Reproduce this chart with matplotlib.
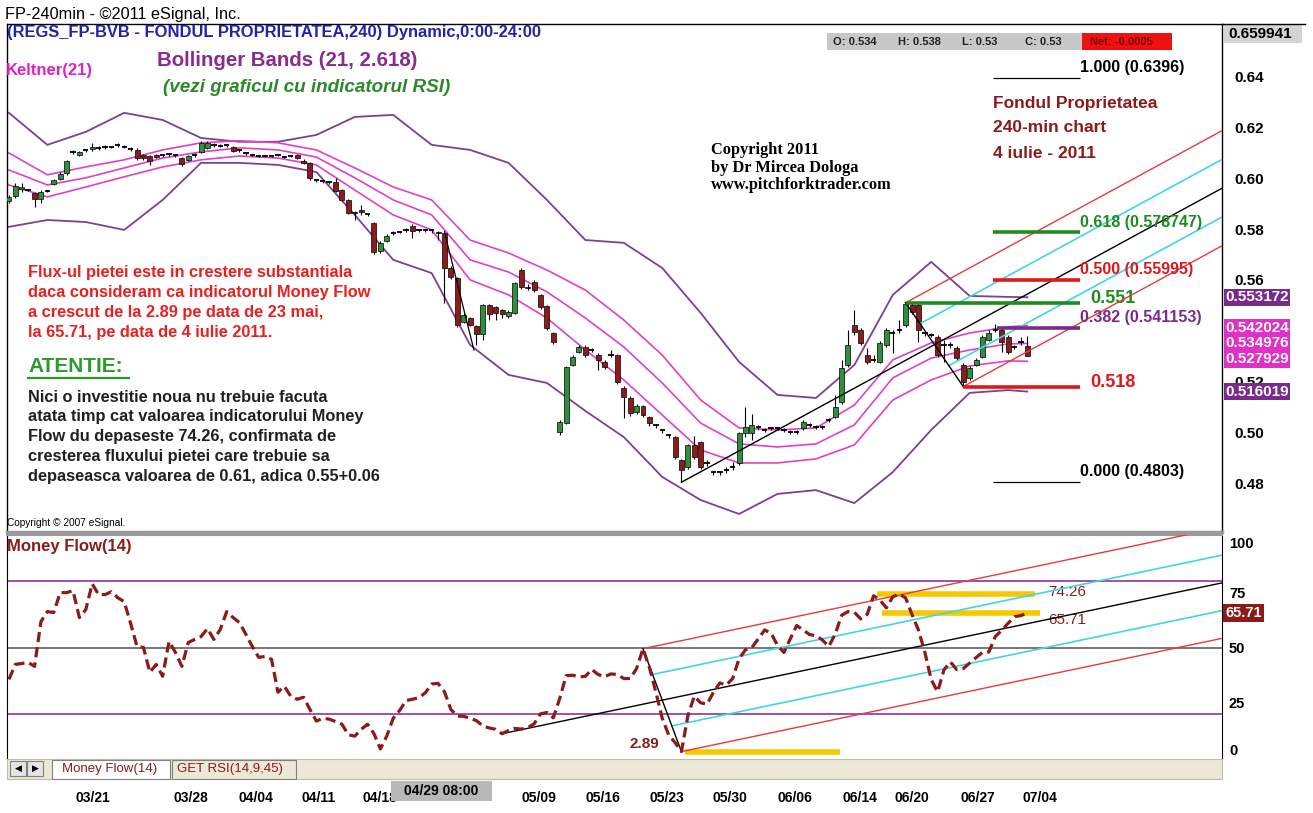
import numpy as np
import matplotlib.pyplot as plt
from matplotlib.patches import Rectangle
from matplotlib.lines import Line2D
from matplotlib.transforms import blended_transform_factory

plt.rcParams['font.family'] = ['Liberation Sans', 'DejaVu Sans']

W, H = 1313, 813

# ---- price bars (240 min) ----
opens = [
    0.5911, 0.5931, 0.5958, 0.5954, 0.5943, 0.5919, 0.5950, 0.5978, 0.5998, 0.6021,
    0.6104, 0.6092, 0.6112, 0.6116, 0.6120, 0.6124, 0.6124, 0.6132, 0.6124, 0.6116,
    0.6112, 0.6092, 0.6088, 0.6092, 0.6092, 0.6096, 0.6092, 0.6080, 0.6073, 0.6092,
    0.6104, 0.6120, 0.6132, 0.6128, 0.6132, 0.6124, 0.6112, 0.6100, 0.6092, 0.6088,
    0.6088, 0.6088, 0.6092, 0.6084, 0.6088, 0.6092, 0.6069, 0.6061, 0.5994, 0.5990,
    0.5986, 0.5986, 0.5954, 0.5915, 0.5868, 0.5876, 0.5860, 0.5824, 0.5714, 0.5753,
    0.5785, 0.5789, 0.5797, 0.5813, 0.5797, 0.5797, 0.5797, 0.5789, 0.5785, 0.5647,
    0.5608, 0.5434, 0.5450, 0.5419, 0.5387, 0.5501, 0.5493, 0.5482, 0.5458, 0.5470,
    0.5639, 0.5572, 0.5592, 0.5541, 0.5497, 0.5391, 0.5001, 0.5036, 0.5265, 0.5316,
    0.5336, 0.5324, 0.5304, 0.5277, 0.5304, 0.5304, 0.5174, 0.5135, 0.5080, 0.5103,
    0.5060, 0.5029, 0.5009, 0.4989, 0.4981, 0.4891, 0.4863, 0.4950, 0.4962, 0.4879,
    0.4843, 0.4843, 0.4851, 0.4863, 0.4879, 0.4997, 0.4997, 0.5021, 0.5009, 0.5017,
    0.5017, 0.5009, 0.5001, 0.5001, 0.5017, 0.5029, 0.5021, 0.5021, 0.5048, 0.5060,
    0.5119, 0.5265, 0.5422, 0.5403, 0.5304, 0.5285, 0.5277, 0.5344, 0.5391, 0.5403,
    0.5422, 0.5501, 0.5501, 0.5391, 0.5383, 0.5375, 0.5344, 0.5344, 0.5332, 0.5265,
    0.5214, 0.5265, 0.5296, 0.5363, 0.5403, 0.5403, 0.5375, 0.5336, 0.5356, 0.534]
highs = [
    0.5935, 0.5982, 0.5982, 0.5958, 0.5947, 0.5954, 0.5954, 0.5998, 0.6025, 0.6073,
    0.6112, 0.6108, 0.6116, 0.6140, 0.6128, 0.6132, 0.6128, 0.6140, 0.6132, 0.6124,
    0.6120, 0.6096, 0.6092, 0.6096, 0.6096, 0.6100, 0.6096, 0.6084, 0.6092, 0.6100,
    0.6148, 0.6148, 0.6140, 0.6136, 0.6136, 0.6128, 0.6116, 0.6104, 0.6096, 0.6092,
    0.6092, 0.6092, 0.6096, 0.6088, 0.6092, 0.6096, 0.6077, 0.6065, 0.5998, 0.5994,
    0.5990, 0.6002, 0.5958, 0.5919, 0.5872, 0.5895, 0.5864, 0.5828, 0.5753, 0.5781,
    0.5793, 0.5793, 0.5805, 0.5820, 0.5801, 0.5801, 0.5801, 0.5793, 0.5793, 0.5655,
    0.5612, 0.5470, 0.5454, 0.5422, 0.5505, 0.5505, 0.5497, 0.5485, 0.5482, 0.5592,
    0.5647, 0.5584, 0.5600, 0.5545, 0.5501, 0.5395, 0.5048, 0.5261, 0.5304, 0.5344,
    0.5344, 0.5332, 0.5312, 0.5285, 0.5324, 0.5308, 0.5182, 0.5143, 0.5111, 0.5107,
    0.5064, 0.5032, 0.5013, 0.4993, 0.4985, 0.4895, 0.4954, 0.4985, 0.4965, 0.4891,
    0.4847, 0.4847, 0.4863, 0.4883, 0.5001, 0.5099, 0.5072, 0.5029, 0.5017, 0.5021,
    0.5021, 0.5017, 0.5009, 0.5009, 0.5048, 0.5036, 0.5029, 0.5029, 0.5056, 0.5147,
    0.5285, 0.5403, 0.5482, 0.5411, 0.5332, 0.5304, 0.5360, 0.5411, 0.5403, 0.5442,
    0.5510, 0.5509, 0.5509, 0.5399, 0.5391, 0.5383, 0.5363, 0.5356, 0.5340, 0.5273,
    0.5261, 0.5292, 0.5383, 0.5403, 0.5426, 0.5411, 0.5383, 0.5344, 0.5375, 0.538]
lows = [
    0.5903, 0.5923, 0.5947, 0.5950, 0.5887, 0.5903, 0.5947, 0.5974, 0.5994, 0.6014,
    0.6096, 0.6088, 0.6104, 0.6108, 0.6112, 0.6116, 0.6120, 0.6124, 0.6120, 0.6108,
    0.6073, 0.6073, 0.6053, 0.6080, 0.6084, 0.6088, 0.6084, 0.6049, 0.6069, 0.6084,
    0.6100, 0.6116, 0.6124, 0.6124, 0.6124, 0.6104, 0.6104, 0.6092, 0.6088, 0.6084,
    0.6084, 0.6084, 0.6088, 0.6080, 0.6084, 0.6077, 0.6057, 0.5994, 0.5986, 0.5982,
    0.5978, 0.5947, 0.5911, 0.5860, 0.5836, 0.5856, 0.5852, 0.5702, 0.5706, 0.5750,
    0.5777, 0.5785, 0.5789, 0.5765, 0.5789, 0.5789, 0.5785, 0.5757, 0.5509, 0.5604,
    0.5415, 0.5430, 0.5419, 0.5344, 0.5363, 0.5442, 0.5442, 0.5450, 0.5450, 0.5466,
    0.5564, 0.5560, 0.5553, 0.5485, 0.5403, 0.5348, 0.4989, 0.5032, 0.5261, 0.5312,
    0.5296, 0.5316, 0.5245, 0.5249, 0.5296, 0.5190, 0.5056, 0.5064, 0.5072, 0.5060,
    0.5025, 0.5017, 0.4997, 0.4977, 0.4895, 0.4803, 0.4855, 0.4895, 0.4855, 0.4867,
    0.4832, 0.4832, 0.4839, 0.4851, 0.4871, 0.4981, 0.4969, 0.5009, 0.5001, 0.5009,
    0.5009, 0.5001, 0.4993, 0.4993, 0.5009, 0.5021, 0.5013, 0.5013, 0.5040, 0.5056,
    0.5111, 0.5257, 0.5383, 0.5344, 0.5269, 0.5277, 0.5273, 0.5336, 0.5312, 0.5391,
    0.5415, 0.5466, 0.5356, 0.5379, 0.5375, 0.5296, 0.5277, 0.5332, 0.5285, 0.5180,
    0.5206, 0.5261, 0.5292, 0.5360, 0.5395, 0.5316, 0.5308, 0.5328, 0.5344, 0.530]
closes = [
    0.5927, 0.5970, 0.5966, 0.5954, 0.5919, 0.5947, 0.5950, 0.5994, 0.6017, 0.6069,
    0.6104, 0.6104, 0.6112, 0.6124, 0.6120, 0.6124, 0.6124, 0.6132, 0.6124, 0.6116,
    0.6080, 0.6080, 0.6069, 0.6084, 0.6092, 0.6096, 0.6092, 0.6057, 0.6088, 0.6092,
    0.6140, 0.6140, 0.6132, 0.6128, 0.6132, 0.6108, 0.6112, 0.6100, 0.6092, 0.6088,
    0.6088, 0.6088, 0.6092, 0.6084, 0.6088, 0.6080, 0.6061, 0.6002, 0.5994, 0.5990,
    0.5986, 0.5950, 0.5915, 0.5864, 0.5864, 0.5868, 0.5860, 0.5710, 0.5746, 0.5773,
    0.5785, 0.5789, 0.5797, 0.5793, 0.5797, 0.5797, 0.5797, 0.5785, 0.5647, 0.5612,
    0.5422, 0.5462, 0.5422, 0.5387, 0.5501, 0.5466, 0.5470, 0.5466, 0.5474, 0.5588,
    0.5572, 0.5568, 0.5560, 0.5493, 0.5411, 0.5356, 0.5040, 0.5257, 0.5296, 0.5336,
    0.5304, 0.5324, 0.5285, 0.5257, 0.5304, 0.5198, 0.5139, 0.5076, 0.5103, 0.5068,
    0.5036, 0.5029, 0.5009, 0.4989, 0.4902, 0.4851, 0.4950, 0.4902, 0.4863, 0.4879,
    0.4843, 0.4843, 0.4851, 0.4863, 0.4997, 0.5021, 0.5029, 0.5021, 0.5009, 0.5017,
    0.5017, 0.5009, 0.5001, 0.5001, 0.5040, 0.5029, 0.5021, 0.5021, 0.5048, 0.5099,
    0.5253, 0.5344, 0.5395, 0.5352, 0.5277, 0.5285, 0.5352, 0.5403, 0.5391, 0.5403,
    0.5505, 0.5474, 0.5403, 0.5391, 0.5383, 0.5304, 0.5344, 0.5344, 0.5292, 0.5198,
    0.5253, 0.5285, 0.5375, 0.5391, 0.5403, 0.5356, 0.5316, 0.5336, 0.5356, 0.530]

# ---- Money Flow(14) ----
money_flow = [
    35.6, 42.4, 42.8, 43.3, 41.5, 61.8, 66.3, 65.9, 74.9, 74.9,
    75.8, 63.6, 67.2, 78.9, 74.0, 74.0, 75.3, 72.6, 70.8, 61.0,
    50.5, 50.1, 38.8, 42.4, 37.0, 52.8, 47.8, 41.5, 52.3, 53.7,
    55.0, 58.6, 53.7, 58.2, 66.3, 63.6, 61.3, 56.0, 50.5, 45.6,
    46.0, 44.7, 29.8, 32.5, 28.0, 26.6, 27.5, 22.0, 16.7, 18.0,
    17.6, 16.5, 15.3, 10.5, 9.9, 13.0, 15.3, 11.0, 4.1, 10.0,
    18.0, 21.5, 26.0, 26.6, 27.3, 29.5, 33.5, 33.8, 30.0, 22.0,
    19.0, 18.9, 18.0, 16.9, 14.5, 13.6, 13.0, 11.0, 12.5, 13.4,
    13.1, 13.7, 15.5, 20.0, 20.6, 18.2, 27.0, 37.3, 37.5, 36.7,
    37.0, 40.1, 37.8, 36.8, 38.1, 37.8, 36.0, 36.0, 40.5, 49.5,
    41.0, 30.0, 18.0, 10.5, 7.0, 2.89, 19.0, 28.0, 25.0, 24.4,
    29.8, 34.0, 33.0, 36.0, 45.0, 49.0, 50.0, 54.0, 58.0, 56.5,
    51.0, 47.8, 54.0, 60.0, 58.0, 55.9, 55.4, 53.5, 50.5, 56.0,
    64.6, 66.3, 66.0, 63.0, 65.0, 73.5, 71.5, 68.0, 73.0, 74.26,
    72.5, 65.0, 58.0, 48.0, 35.5, 30.0, 40.0, 43.5, 40.0, 40.5,
    43.0, 45.5, 47.8, 48.0, 55.0, 57.8, 61.0, 64.0, 64.5, 65.71]

# ---- Bollinger (21, 2.618) and Keltner(21), read every 6 bars ----
band_idx = list(range(0, 160, 6)) + [159]
bb_upper = [0.6258, 0.6132, 0.6183, 0.6258, 0.6230, 0.6159, 0.6144, 0.6144, 0.6171, 0.6242,
            0.6250, 0.6132, 0.6112, 0.6061, 0.5915, 0.5757, 0.5746, 0.5647, 0.5470, 0.5277,
            0.5147, 0.5135, 0.5265, 0.5541, 0.5671, 0.5537, 0.5533, 0.553172]
bb_lower = [0.5809, 0.5836, 0.5828, 0.5797, 0.5915, 0.6061, 0.6061, 0.6053, 0.6025, 0.5856,
            0.5679, 0.5627, 0.5344, 0.5226, 0.5194, 0.5084, 0.4981, 0.4824, 0.4733, 0.4678,
            0.4757, 0.4772, 0.4721, 0.4843, 0.5009, 0.5155, 0.5166, 0.516019]
kc_upper = [0.6100, 0.6014, 0.6045, 0.6073, 0.6112, 0.6140, 0.6148, 0.6140, 0.6112, 0.6041,
            0.5966, 0.5915, 0.5757, 0.5706, 0.5639, 0.5560, 0.5442, 0.5304, 0.5127, 0.5017,
            0.5009, 0.5017, 0.5107, 0.5285, 0.5352, 0.5391, 0.5415, 0.542024]
kc_mid = [0.6033, 0.5974, 0.6002, 0.6041, 0.6080, 0.6104, 0.6120, 0.6112, 0.6084, 0.6002,
          0.5915, 0.5856, 0.5679, 0.5631, 0.5553, 0.5450, 0.5336, 0.5194, 0.5036, 0.4954,
          0.4942, 0.4954, 0.5029, 0.5214, 0.5292, 0.5324, 0.5348, 0.534976]
kc_lower = [0.5974, 0.5927, 0.5966, 0.6006, 0.6045, 0.6073, 0.6088, 0.6080, 0.6053, 0.5954,
            0.5856, 0.5797, 0.5600, 0.5541, 0.5450, 0.5324, 0.5206, 0.5068, 0.4930, 0.4879,
            0.4879, 0.4895, 0.4950, 0.5127, 0.5206, 0.5261, 0.5281, 0.527929]

# ---- annotations ----
date_pos = [13.1, 28.4, 38.5, 48.4, 58.0, 82.7, 92.7, 102.7, 112.6, 122.8, 132.9, 141.0, 151.3, 161.0]
date_labels = ['03/21', '03/28', '04/04', '04/11', '04/18', '05/09', '05/16', '05/23',
               '05/30', '06/06', '06/14', '06/20', '06/27', '07/04']

fib_prices = [0.6396, 0.578747, 0.55995, 0.541153, 0.4803]
fib_texts = ['1.000 (0.6396)', '0.618 (0.578747)', '0.500 (0.55995)', '0.382 (0.541153)', '0.000 (0.4803)']
fib_colors = ['black', '#1e8c1e', '#e01818', '#7a2a8a', 'black']
fib_widths = [0.9, 2.6, 2.6, 2.6, 0.9]

pf_a, pf_b, pf_c = (105, 0.4803), (140, 0.551), (149, 0.518)
mf_a, mf_b, mf_c = (77, 11.0), (99, 49.5), (105, 2.89)
old_handle = ([68, 72.6], [0.5789, 0.5324])

bb_last = [0.553172, 0.516019]
kc_last = [0.542024, 0.534976, 0.527929]

DARKRED = '#8b1a1a'


def fx(x):
    return x / W


def fy(y):
    return 1 - y / H


def fork(a, b, c, x_end):
    mid = ((b[0] + c[0]) / 2, (b[1] + c[1]) / 2)
    k = (mid[1] - a[1]) / (mid[0] - a[0])
    q1 = (b[0] + 0.25 * (c[0] - b[0]), b[1] + 0.25 * (c[1] - b[1]))
    q3 = (b[0] + 0.75 * (c[0] - b[0]), b[1] + 0.75 * (c[1] - b[1]))

    def ray(p):
        return [p[0], x_end], [p[1], p[1] + k * (x_end - p[0])]
    return ray(a), ray(b), ray(c), ray(q1), ray(q3)


def draw_fork(axis, a, b, c, x_end):
    med, up, lo, c1, c2 = fork(a, b, c, x_end)
    axis.plot(*med, color='black', lw=1.0, zorder=5)
    axis.plot(*up, color='#e83a3a', lw=1.0, zorder=5)
    axis.plot(*lo, color='#e83a3a', lw=1.0, zorder=5)
    axis.plot(*c1, color='#3fd6e6', lw=1.2, zorder=5)
    axis.plot(*c2, color='#3fd6e6', lw=1.2, zorder=5)
    axis.plot([b[0], c[0]], [b[1], c[1]], color='black', lw=1.0, zorder=5)


def fig_rect(x0, y0, x1, y1, **kw):
    fig.add_artist(Rectangle((fx(x0), fy(y1)), fx(x1) - fx(x0), fy(y0) - fy(y1),
                             transform=fig.transFigure, **kw))


fig = plt.figure(figsize=(W / 100, H / 100), dpi=100)
ax = fig.add_axes([fx(7), fy(532), fx(1222) - fx(7), fy(24) - fy(532)])
ax2 = fig.add_axes([fx(7), fy(758), fx(1222) - fx(7), fy(535) - fy(758)])
x_end = 189.4
for a in (ax, ax2):
    a.set_xlim(-0.3, x_end)
ax.set_ylim(0.4607, 0.6608)
ax2.set_ylim(0.45, 101)

# ---- upper panel ----
ax.plot(band_idx, bb_upper, color='#7b3f98', lw=1.3, zorder=2)
ax.plot(band_idx, bb_lower, color='#7b3f98', lw=1.3, zorder=2)
for kc in (kc_upper, kc_mid, kc_lower):
    ax.plot(band_idx, kc, color='#e040c8', lw=1.2, zorder=2)

bars = np.arange(len(closes))
o, h, l, c = map(np.array, (opens, highs, lows, closes))
ax.vlines(bars, l, h, colors='black', lw=0.8, zorder=3)
body = np.abs(c - o) >= 0.0003
up = c > o
ax.bar(bars[body], np.abs(c - o)[body], bottom=np.minimum(o, c)[body], width=0.78,
       color=np.where(up, '#2f8f3a', '#8e1b1b')[body], edgecolor='black', linewidth=0.5, zorder=4)
ax.hlines(c[~body], bars[~body] - 0.42, bars[~body] + 0.42, colors='black', lw=1.3, zorder=4)

draw_fork(ax, pf_a, pf_b, pf_c, x_end)
ax.plot(*old_handle, color='black', lw=0.9, zorder=5)

fib_x0, fib_x1 = 153.7, 167.2
for p, t, col, lw in zip(fib_prices, fib_texts, fib_colors, fib_widths):
    x0 = 154.3 if t.startswith('0.382') else fib_x0
    ax.hlines(p, x0, fib_x1, colors=col, lw=lw, zorder=6)
    ax.text(fib_x1 + 0.1, p + 0.0011, t, color=col, fontsize=11.5, fontweight='bold',
            ha='left', va='bottom', zorder=7)
ax.hlines(0.551, pf_b[0], fib_x1, colors='#1e8c1e', lw=2.6, zorder=6)
ax.text(168.8, 0.5525, '0.551', color='#1e8c1e', fontsize=13, fontweight='bold', va='center')
ax.hlines(0.518, pf_c[0], fib_x1, colors='#e01818', lw=2.6, zorder=6)
ax.text(168.8, 0.5195, '0.518', color='#e01818', fontsize=13, fontweight='bold', va='center')

ax.yaxis.tick_right()
ax.set_yticks([0.48, 0.50, 0.52, 0.56, 0.58, 0.60, 0.62, 0.64])
ax.set_yticklabels(['0.48', '0.50', '0.52', '0.56', '0.58', '0.60', '0.62', '0.64'],
                   fontweight='bold', fontsize=11)
ax.tick_params(axis='y', length=0, pad=9)
ax.tick_params(axis='x', bottom=False, labelbottom=False)
for s in ('left', 'top', 'right'):
    ax.spines[s].set_color('black')
    ax.spines[s].set_linewidth(1.0)
ax.spines['bottom'].set_color('#9a9a9a')
ax.spines['bottom'].set_linewidth(2.5)

tr = blended_transform_factory(ax.transAxes, ax.transData)
for v in bb_last:
    ax.text(1.0025, v, f'{v:.6f}', transform=tr, color='white', fontsize=11, fontweight='bold',
            va='center', ha='left', clip_on=False, zorder=8,
            bbox=dict(boxstyle='square,pad=0.1', fc='#7a2a8a', ec='none'))
ax.text(1.0025, kc_last[1], '\n'.join(f'{v:.6f}' for v in kc_last), transform=tr, color='white',
        fontsize=11, fontweight='bold', linespacing=1.17, va='center', ha='left', clip_on=False,
        zorder=8, bbox=dict(boxstyle='square,pad=0.1', fc='#e030c8', ec='none'))

# ---- lower panel ----
ax2.axhline(80, color='#9030a0', lw=1.2, zorder=2)
ax2.axhline(20, color='#9030a0', lw=1.2, zorder=2)
ax2.axhline(50, color='#606060', lw=1.2, zorder=2)
draw_fork(ax2, mf_a, mf_b, mf_c, x_end)
ax2.plot(bars, money_flow, color=DARKRED, lw=2.3, ls=(0, (3.2, 1.6)), zorder=6)

ax2.hlines(74.26, 135.6, 160.2, colors='#f5c800', lw=4, zorder=4)
ax2.hlines(65.71, 136.3, 161.0, colors='#f5c800', lw=4, zorder=4)
ax2.hlines(2.89, 105.5, 129.8, colors='#f5c800', lw=4, zorder=4)
ax2.text(162.3, 75.3, '74.26', color=DARKRED, fontsize=11, va='center', ha='left')
ax2.text(162.3, 62.3, '65.71', color=DARKRED, fontsize=11, va='center', ha='left')
ax2.text(101.6, 6.3, '2.89', color=DARKRED, fontsize=11, fontweight='bold', va='center', ha='right')

ax2.yaxis.tick_right()
ax2.set_yticks([0, 25, 50, 75, 100])
ax2.set_yticklabels(['0', '25', '50', '75', '100'], fontweight='bold', fontsize=10.5)
lbls = ax2.get_yticklabels()
lbls[0].set_va('bottom')
lbls[-1].set_va('top')
ax2.tick_params(axis='y', length=0, pad=5)
ax2.set_xticks(date_pos)
ax2.set_xticklabels(date_labels, fontweight='bold', fontsize=10)
ax2.tick_params(axis='x', length=0, pad=24)
ax2.spines['top'].set_color('#9a9a9a')
ax2.spines['top'].set_linewidth(1.5)
ax2.spines['bottom'].set_visible(False)
tr2 = blended_transform_factory(ax2.transAxes, ax2.transData)
ax2.text(1.0025, 65.71, '65.71', transform=tr2, color='white', fontsize=10.5, fontweight='bold',
         va='center', ha='left', clip_on=False, zorder=8,
         bbox=dict(boxstyle='square,pad=0.15', fc=DARKRED, ec='none'))

# ---- header and text blocks ----
fig.text(fx(5), fy(14), 'FP-240min - ©2011 eSignal, Inc.', fontsize=11.7, va='center')
fig.add_artist(Line2D([fx(1222), fx(1305)], [fy(24), fy(24)], color='black', lw=1.0))
fig.text(fx(7), fy(33), '(REGS_FP-BVB - FONDUL PROPRIETATEA,240) Dynamic,0:00-24:00',
         color='#2222b0', fontsize=11.9, fontweight='bold', va='center')
fig.text(fx(6), fy(71), 'Keltner(21)', color='#e020c0', fontsize=12, fontweight='bold', va='center')
fig.text(fx(157), fy(60), 'Bollinger Bands (21, 2.618)', color='#8a2a90', fontsize=14.7,
         fontweight='bold', va='center')
fig.text(fx(163), fy(87), '(vezi graficul cu indicatorul RSI)', color='#2a8a2a', fontsize=13.6,
         fontweight='bold', style='italic', va='center')

fig_rect(827, 33, 1082, 50, fc='#c8c8c8', ec='none')
fig_rect(1082, 33, 1172, 50, fc='#ee1111', ec='none')
for xx, t in zip([833, 898, 962, 1025], ['O: 0.534', 'H: 0.538', 'L: 0.53', 'C: 0.53']):
    fig.text(fx(xx), fy(42), t, fontsize=8, fontweight='bold', color='#202020', va='center')
fig.text(fx(1090), fy(42), 'Net: -0.0005', fontsize=8, fontweight='bold', color='#7a0000', va='center')

fig_rect(1224, 25, 1302, 43, fc='#d4d4d4', ec='none')
fig.text(fx(1228), fy(34), '0.659941', fontsize=11, fontweight='bold', va='center')

for yy, t in zip([103, 128, 153], ['Fondul Proprietatea', '240-min chart', '4 iulie - 2011']):
    fig.text(fx(993), fy(yy), t, color=DARKRED, fontsize=12.5, fontweight='bold', va='center')
for yy, t in zip([150, 167.5, 185], ['Copyright 2011', 'by Dr Mircea Dologa', 'www.pitchforktrader.com']):
    fig.text(fx(711), fy(yy), t, family='Liberation Serif', fontsize=11.8, fontweight='bold', va='center')

red_lines = ['Flux-ul pietei este in crestere substantiala',
             'daca consideram ca indicatorul Money Flow',
             'a crescut de la 2.89 pe data de 23 mai,',
             'la 65.71, pe data de 4 iulie 2011.']
for k, t in enumerate(red_lines):
    fig.text(fx(28), fy(272 + 20.3 * k), t, color='#e82020', fontsize=11.8, fontweight='bold', va='center')
fig.text(fx(28), fy(366), 'ATENTIE:', color='#2a9a2a', fontsize=15, fontweight='bold', va='center')
fig.add_artist(Line2D([fx(28), fx(129)], [fy(378), fy(378)], color='#2a9a2a', lw=1.6))
black_lines = ['Nici o investitie noua nu trebuie facuta',
               'atata timp cat valoarea indicatorului Money',
               'Flow du depaseste 74.26, confirmata de',
               'cresterea fluxului pietei care trebuie sa',
               'depaseasca valoarea de 0.61, adica 0.55+0.06']
for k, t in enumerate(black_lines):
    fig.text(fx(28), fy(397 + 19.8 * k), t, color='#202020', fontsize=11.8, fontweight='bold', va='center')
fig.text(fx(7), fy(523), 'Copyright © 2007 eSignal.', fontsize=7.3, va='center')
fig.text(fx(7), fy(547), 'Money Flow(14)', color=DARKRED, fontsize=12, fontweight='bold', va='center')

# ---- tab strip and cursor date ----
fig_rect(7, 759, 1222, 779, fc='#ebe8d8', ec='#c0bca8', lw=0.8)
for xx, sym in zip([10, 27], ['◀', '▶']):
    fig_rect(xx, 761, xx + 16, 776, fc='#e4e4e4', ec='#808080', lw=0.8)
    fig.text(fx(xx + 8), fy(768.5), sym, family='DejaVu Sans', fontsize=6.5, ha='center', va='center')
fig_rect(52, 760, 170, 779, fc='white', ec='#808080', lw=0.8)
fig.text(fx(62), fy(769), 'Money Flow(14)', color=DARKRED, fontsize=9.5, va='center')
fig_rect(172, 760, 296, 779, fc='#ebe8d8', ec='#808080', lw=0.8)
fig.text(fx(177), fy(769), 'GET RSI(14,9,45)', color=DARKRED, fontsize=9.5, va='center')

fig_rect(391, 781, 492, 801, fc='#b8b8b8', ec='none')
fig.text(fx(441), fy(791), '04/29 08:00', fontsize=10, fontweight='bold', ha='center', va='center')

fig.savefig('out.png', dpi=100)
